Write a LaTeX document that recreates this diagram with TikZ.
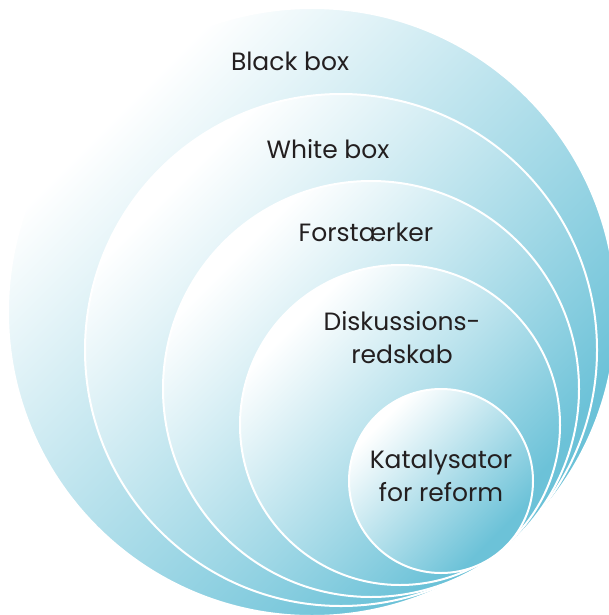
\documentclass[tikz,border=0pt]{standalone}
\usepackage{fontspec}
\setmainfont{Poppins}
\usepackage{tikz}
\definecolor{ringblue}{RGB}{108,194,216}
\definecolor{inkgray}{HTML}{231F20}
\pgfdeclareverticalshading{ringshade}{100bp}{%
  color(0bp)=(ringblue); color(29bp)=(ringblue);
  color(73bp)=(white); color(100bp)=(white)}

\begin{document}
\begin{tikzpicture}[x=1pt,y=-1pt,
        ring/.style={draw=white,line width=2pt,shade,shading=ringshade,shading angle=45},
        lbl/.style={font=\fontsize{25}{33}\selectfont,text=inkgray,align=center}]
      \useasboundingbox (0,0) rectangle (608,615);
      % nested circles, outer to inner
      \coordinate (c1) at (312,312);
      \coordinate (c2) at (341,350);
      \coordinate (c3) at (371,389);
      \coordinate (c4) at (400,425);
      \coordinate (c5) at (441,481);
      \path[ring] (c1) circle (304);
      \path[ring] (c2) circle (256);
      \path[ring] (c3) circle (208);
      \path[ring] (c4) circle (160);
      \path[ring] (c5) circle (92);
      % labels
      \node[lbl,anchor=base] (black) at (290,71) {Black box};
      \node[lbl,anchor=base] (white) at (328,158) {White box};
      \node[lbl,anchor=base] (forst) at (366,241) {Forstærker};
      \node[lbl] (disk) at (402,338) {Diskussions-\\redskab};
      \node[lbl] (kata) at (441,476) {Katalysator\\for reform};
    \end{tikzpicture}
\end{document}
